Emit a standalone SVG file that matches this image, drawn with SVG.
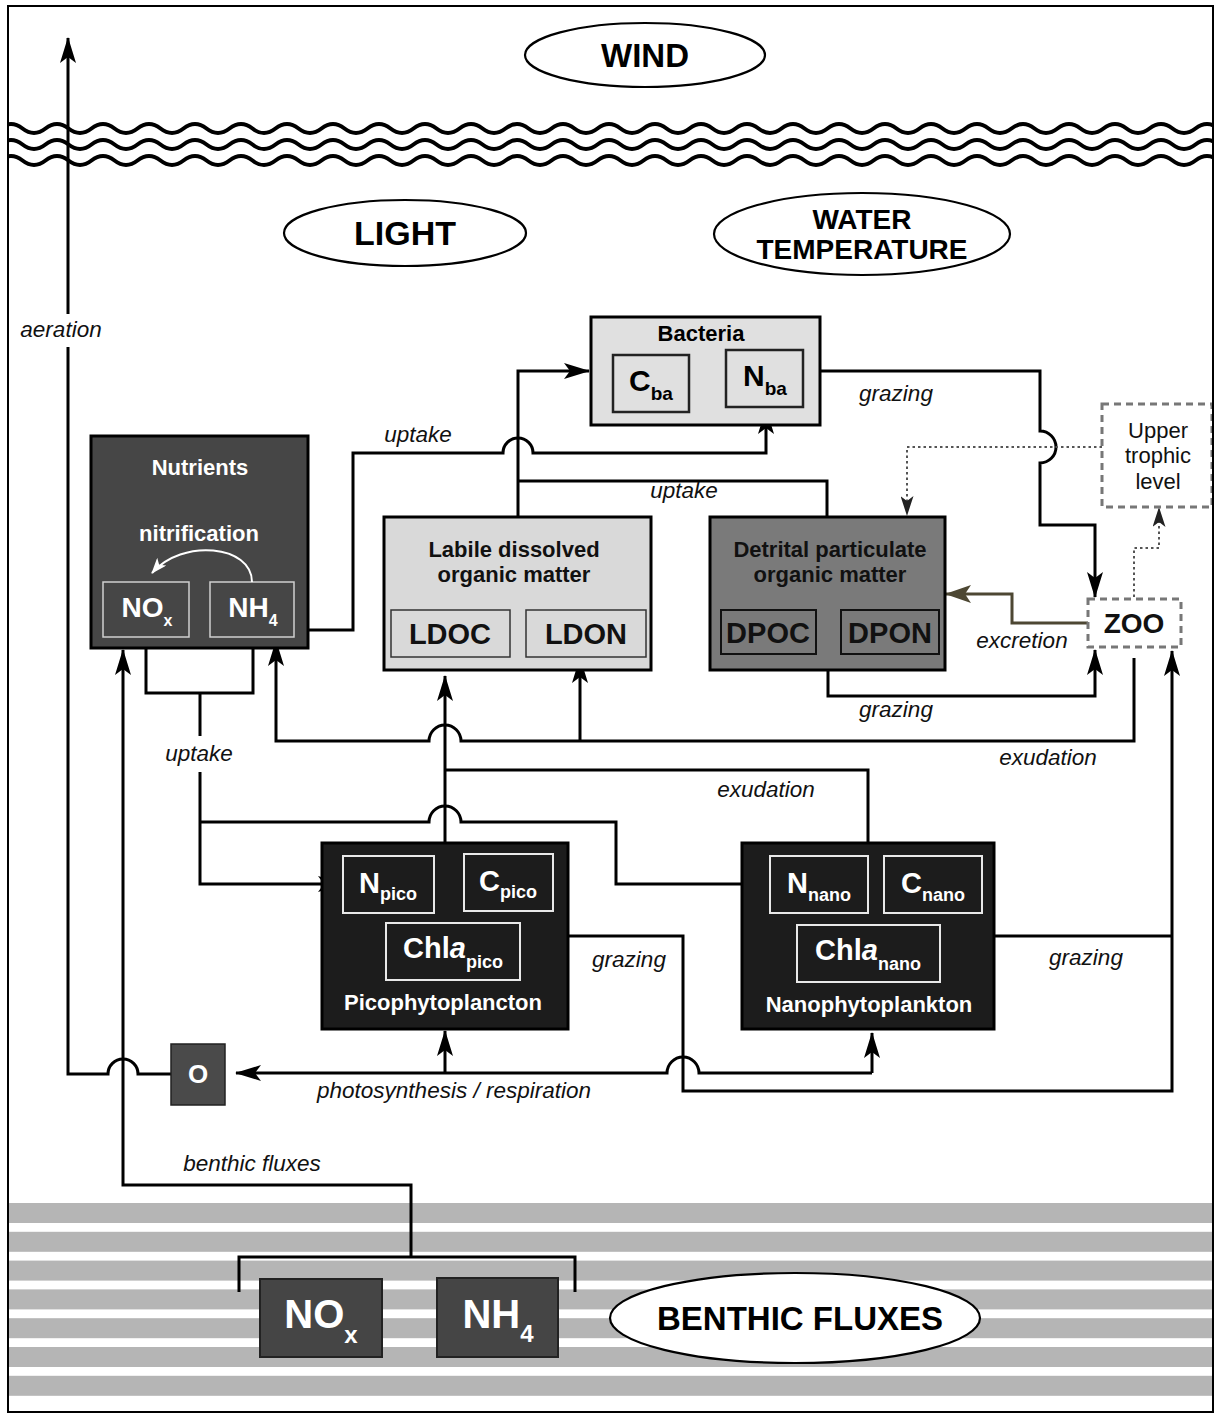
<svg xmlns="http://www.w3.org/2000/svg" width="1216" height="1414" viewBox="0 0 1216 1414">
<style>
text{font-family:"Liberation Sans",Arial,sans-serif}
.b{font-weight:bold}
.m{text-anchor:middle}
.w{fill:#fff}
.lab{font-size:22.5px;font-style:italic;fill:#111;text-anchor:middle}
.c{stroke:#000;stroke-width:3;fill:none}
.dot{stroke:#555;stroke-width:2;fill:none;stroke-dasharray:2.5,3}
.dash{fill:#fff;stroke:#777;stroke-width:3;stroke-dasharray:7,5}
.ell{fill:#fff;stroke:#000;stroke-width:2.2}
.stripe{fill:#b5b5b5}
.wave{fill:none;stroke:#000;stroke-width:4}
.pin{fill:none;stroke:#e8e8e8;stroke-width:2}
</style>
<defs>
<marker id="ah" viewBox="0 0 26 16" refX="25" refY="8" markerWidth="26" markerHeight="16" markerUnits="userSpaceOnUse" orient="auto"><path d="M0,0 L26,8 L0,16 L6,8 z" fill="#000"/></marker>
<marker id="ahs" viewBox="0 0 20 13" refX="19" refY="6.5" markerWidth="20" markerHeight="13" markerUnits="userSpaceOnUse" orient="auto"><path d="M0,0 L20,6.5 L0,13 L5,6.5 z" fill="#222"/></marker>
<marker id="aho" viewBox="0 0 26 18" refX="25" refY="9" markerWidth="26" markerHeight="18" markerUnits="userSpaceOnUse" orient="auto"><path d="M0,0 L26,9 L0,18 L6,9 z" fill="#4d4733"/></marker>
<marker id="ahw" viewBox="0 0 16 12" refX="15" refY="6" markerWidth="16" markerHeight="12" markerUnits="userSpaceOnUse" orient="auto"><path d="M0,0 L16,6 L0,12 L4,6 z" fill="#fff"/></marker>
<clipPath id="frameclip"><rect x="8" y="6" width="1205" height="1406"/></clipPath>
<path id="wv" d="M-12,133 c11.5,0 11.5,-9 23,-9 s11.5,9 23,9 s11.5,-9 23,-9 s11.5,9 23,9 s11.5,-9 23,-9 s11.5,9 23,9 s11.5,-9 23,-9 s11.5,9 23,9 s11.5,-9 23,-9 s11.5,9 23,9 s11.5,-9 23,-9 s11.5,9 23,9 s11.5,-9 23,-9 s11.5,9 23,9 s11.5,-9 23,-9 s11.5,9 23,9 s11.5,-9 23,-9 s11.5,9 23,9 s11.5,-9 23,-9 s11.5,9 23,9 s11.5,-9 23,-9 s11.5,9 23,9 s11.5,-9 23,-9 s11.5,9 23,9 s11.5,-9 23,-9 s11.5,9 23,9 s11.5,-9 23,-9 s11.5,9 23,9 s11.5,-9 23,-9 s11.5,9 23,9 s11.5,-9 23,-9 s11.5,9 23,9 s11.5,-9 23,-9 s11.5,9 23,9 s11.5,-9 23,-9 s11.5,9 23,9 s11.5,-9 23,-9 s11.5,9 23,9 s11.5,-9 23,-9 s11.5,9 23,9 s11.5,-9 23,-9 s11.5,9 23,9 s11.5,-9 23,-9 s11.5,9 23,9 s11.5,-9 23,-9 s11.5,9 23,9 s11.5,-9 23,-9 s11.5,9 23,9 s11.5,-9 23,-9 s11.5,9 23,9 s11.5,-9 23,-9 s11.5,9 23,9 s11.5,-9 23,-9 s11.5,9 23,9 s11.5,-9 23,-9 s11.5,9 23,9 s11.5,-9 23,-9"/>
</defs>
<rect x="0" y="0" width="1216" height="1414" fill="#fff"/>

<g id="sediment">
<rect class="stripe" x="8" y="1203" width="1205" height="20"/>
<rect class="stripe" x="8" y="1231.8" width="1205" height="20"/>
<rect class="stripe" x="8" y="1260.6" width="1205" height="20"/>
<rect class="stripe" x="8" y="1289.4" width="1205" height="20"/>
<rect class="stripe" x="8" y="1318.2" width="1205" height="20"/>
<rect class="stripe" x="8" y="1347" width="1205" height="20"/>
<rect class="stripe" x="8" y="1375.8" width="1205" height="20"/>
</g>

<g id="waves" clip-path="url(#frameclip)">
<use href="#wv" class="wave"/>
<use href="#wv" class="wave" transform="translate(0,16)"/>
<use href="#wv" class="wave" transform="translate(0,32)"/>
</g>

<g id="wind"><ellipse class="ell" cx="645" cy="55" rx="120" ry="32"/><text class="b m" x="645" y="67" font-size="33">WIND</text></g>
<g id="light"><ellipse class="ell" cx="405" cy="233" rx="121" ry="33"/><text class="b m" x="405" y="245" font-size="34">LIGHT</text></g>
<g id="water-temperature"><ellipse class="ell" cx="862" cy="234" rx="148" ry="41"/><text class="b m" x="862" y="229" font-size="28">WATER</text><text class="b m" x="862" y="259" font-size="28">TEMPERATURE</text></g>

<g id="connectors">
<path class="c" d="M171,1074 H138 A15,15 0 0,0 108,1074 H68 V38" marker-end="url(#ah)"/>
<path class="c" d="M411,1257 V1185 H123 V650" marker-end="url(#ah)"/>
<path class="c" d="M239,1292 V1257 H575 V1292"/>
<path class="c" d="M294,630 H353 V453 H503 A15,15 0 0,1 533,453 H766 V409" marker-end="url(#ah)"/>
<path class="c" d="M518,517 V371 H589" marker-end="url(#ah)"/>
<path class="c" d="M827,517 V481 H518"/>
<path class="c" d="M820,371 H1040 V431 A16,16 0 0,1 1040,463 V525 H1095 V597" marker-end="url(#ah)"/>
<path class="dot" d="M1102,447 H907 V515" marker-end="url(#ahs)"/>
<path class="dot" d="M1134,597 V548 H1159 V508" marker-end="url(#ahs)"/>
<path d="M1088,623 H1012 V594 H946" stroke="#4d4733" stroke-width="3" fill="none" marker-end="url(#aho)"/>
<path class="c" d="M828,670 V696 H1095 V650" marker-end="url(#ah)"/>
<path class="c" d="M1134,658 V741 H461 A16,16 0 0,0 429,741 H276 V641" marker-end="url(#ah)"/>
<path class="c" d="M580,741 V658" marker-end="url(#ah)"/>
<path class="c" d="M146,637 V693 H253 V637"/>
<path class="c" d="M200,693 V884 H343" marker-end="url(#ah)"/>
<path class="c" d="M200,822 H429 A16,16 0 0,1 461,822 H616 V884 H768" marker-end="url(#ah)"/>
<path class="c" d="M445,843 V676" marker-end="url(#ah)"/>
<path class="c" d="M868,843 V770 H445"/>
<path class="c" d="M568,936 H683 V1091 H1172 V651" marker-end="url(#ah)"/>
<path class="c" d="M994,936 H1172"/>
<path class="c" d="M872,1073 H699 A16,16 0 0,0 667,1073 H236" marker-end="url(#ah)"/>
<path class="c" d="M872,1073 V1033" marker-end="url(#ah)"/>
<path class="c" d="M445,1073 V1031" marker-end="url(#ah)"/>
</g>

<g id="labels">
<rect x="20" y="314" width="82" height="33" fill="#fff"/>
<text class="lab" x="61" y="337">aeration</text>
<text class="lab" x="418" y="442">uptake</text>
<text class="lab" x="684" y="498">uptake</text>
<text class="lab" x="896" y="401">grazing</text>
<text class="lab" x="896" y="717">grazing</text>
<text class="lab" x="1022" y="648">excretion</text>
<rect x="163" y="736" width="73" height="36" fill="#fff"/>
<text class="lab" x="199" y="761">uptake</text>
<text class="lab" x="1048" y="765">exudation</text>
<text class="lab" x="766" y="797">exudation</text>
<text class="lab" x="629" y="967">grazing</text>
<text class="lab" x="1086" y="965">grazing</text>
<text class="lab" x="454" y="1098">photosynthesis / respiration</text>
<text class="lab" x="252" y="1171">benthic fluxes</text>
</g>

<g id="bacteria">
<rect x="591" y="317" width="229" height="108" fill="#e0e0e0" stroke="#000" stroke-width="3"/>
<text class="b m" x="701" y="341" font-size="22">Bacteria</text>
<rect x="613" y="355" width="76" height="57" fill="#e0e0e0" stroke="#222" stroke-width="2.5"/>
<text class="b m" x="651" y="391" font-size="30">C<tspan font-size="19" dy="9">ba</tspan></text>
<rect x="726" y="350" width="77" height="57" fill="#e0e0e0" stroke="#222" stroke-width="2.5"/>
<text class="b m" x="765" y="386" font-size="30">N<tspan font-size="19" dy="9">ba</tspan></text>
</g>

<g id="upper-trophic-level">
<rect class="dash" x="1102" y="404" width="110" height="103"/>
<text class="m" x="1158" y="438" font-size="22" fill="#111">Upper</text>
<text class="m" x="1158" y="463" font-size="22" fill="#111">trophic</text>
<text class="m" x="1158" y="489" font-size="22" fill="#111">level</text>
</g>

<g id="nutrients">
<rect x="91" y="436" width="217" height="212" fill="#464646" stroke="#000" stroke-width="3"/>
<text class="b m w" x="200" y="475" font-size="22">Nutrients</text>
<text class="b m w" x="199" y="541" font-size="22">nitrification</text>
<rect x="103" y="582" width="86" height="55" fill="none" stroke="#d0d0d0" stroke-width="1.5"/>
<rect x="210" y="582" width="84" height="55" fill="none" stroke="#d0d0d0" stroke-width="1.5"/>
<text class="b m w" x="147" y="617" font-size="28">NO<tspan font-size="16" dy="9">x</tspan></text>
<text class="b m w" x="253" y="617" font-size="28">NH<tspan font-size="16" dy="9">4</tspan></text>
<path d="M252,582 C252,545 182,538 152,573" stroke="#fff" stroke-width="2" fill="none" marker-end="url(#ahw)"/>
</g>

<g id="ldom">
<rect x="384" y="517" width="267" height="153" fill="#d9d9d9" stroke="#000" stroke-width="3"/>
<text class="b m" x="514" y="557" font-size="22" fill="#111">Labile dissolved</text>
<text class="b m" x="514" y="582" font-size="22" fill="#111">organic matter</text>
<rect x="391" y="610" width="119" height="47" fill="#d9d9d9" stroke="#333" stroke-width="1.5"/>
<text class="b m" x="450" y="644" font-size="29" fill="#111">LDOC</text>
<rect x="526" y="610" width="120" height="47" fill="#d9d9d9" stroke="#333" stroke-width="1.5"/>
<text class="b m" x="586" y="644" font-size="29" fill="#111">LDON</text>
</g>

<g id="dpom">
<rect x="710" y="517" width="235" height="153" fill="#7a7a7a" stroke="#000" stroke-width="3"/>
<text class="b m" x="830" y="557" font-size="22" fill="#111">Detrital particulate</text>
<text class="b m" x="830" y="582" font-size="22" fill="#111">organic matter</text>
<rect x="721" y="610" width="95" height="44" fill="#7a7a7a" stroke="#111" stroke-width="2"/>
<text class="b m" x="768" y="643" font-size="29" fill="#111">DPOC</text>
<rect x="841" y="610" width="98" height="44" fill="#7a7a7a" stroke="#111" stroke-width="2"/>
<text class="b m" x="890" y="643" font-size="29" fill="#111">DPON</text>
</g>

<g id="zoo">
<rect class="dash" x="1088" y="599" width="93" height="48"/>
<text class="b m" x="1134" y="633" font-size="28" fill="#111">ZOO</text>
</g>

<g id="picophytoplancton">
<rect x="322" y="843" width="246" height="186" fill="#1c1c1c" stroke="#000" stroke-width="3"/>
<rect class="pin" x="343" y="856" width="91" height="57"/>
<text class="b m w" x="388" y="893" font-size="29">N<tspan font-size="18" dy="7">pico</tspan></text>
<rect class="pin" x="464" y="854" width="89" height="57"/>
<text class="b m w" x="508" y="891" font-size="29">C<tspan font-size="18" dy="7">pico</tspan></text>
<rect class="pin" x="386" y="923" width="134" height="57"/>
<text class="b m w" x="453" y="958" font-size="29">Chl<tspan font-style="italic">a</tspan><tspan font-size="18" dy="10">pico</tspan></text>
<text class="b m w" x="443" y="1010" font-size="22">Picophytoplancton</text>
</g>

<g id="nanophytoplankton">
<rect x="742" y="843" width="252" height="186" fill="#1c1c1c" stroke="#000" stroke-width="3"/>
<rect class="pin" x="770" y="856" width="98" height="57"/>
<text class="b m w" x="819" y="893" font-size="29">N<tspan font-size="18" dy="8">nano</tspan></text>
<rect class="pin" x="884" y="856" width="98" height="57"/>
<text class="b m w" x="933" y="893" font-size="29">C<tspan font-size="18" dy="8">nano</tspan></text>
<rect class="pin" x="797" y="925" width="143" height="57"/>
<text class="b m w" x="868" y="960" font-size="29">Chl<tspan font-style="italic">a</tspan><tspan font-size="18" dy="10">nano</tspan></text>
<text class="b m w" x="869" y="1012" font-size="22">Nanophytoplankton</text>
</g>

<g id="oxygen">
<rect x="171" y="1044" width="54" height="61" fill="#4a4a4a" stroke="#222" stroke-width="1.5"/>
<text class="b m w" x="198" y="1083" font-size="26">O</text>
</g>

<g id="benthic-nox">
<rect x="260" y="1279" width="122" height="78" fill="#454545" stroke="#222" stroke-width="2"/>
<text class="b m w" x="321" y="1328" font-size="40">NO<tspan font-size="24" dy="15">x</tspan></text>
</g>
<g id="benthic-nh4">
<rect x="437" y="1278" width="121" height="79" fill="#454545" stroke="#222" stroke-width="2"/>
<text class="b m w" x="498" y="1328" font-size="40">NH<tspan font-size="24" dy="14">4</tspan></text>
</g>
<g id="benthic-fluxes">
<ellipse class="ell" cx="795" cy="1318" rx="185" ry="45" stroke-width="2.5"/>
<text class="b m" x="800" y="1330" font-size="33">BENTHIC FLUXES</text>
</g>

<rect x="8" y="6" width="1205" height="1406" fill="none" stroke="#000" stroke-width="2"/>
</svg>
